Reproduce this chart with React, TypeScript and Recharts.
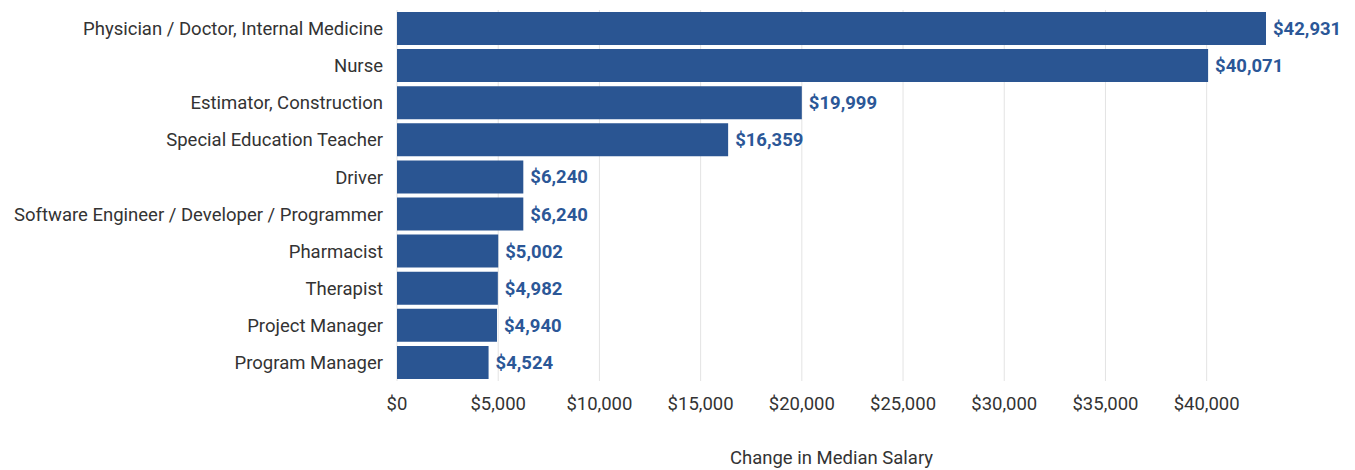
import React from 'react';
import { BarChart, Bar, XAxis, YAxis, CartesianGrid, LabelList, Label } from 'recharts';

const occupations = [
    'Physician / Doctor, Internal Medicine',
    'Nurse',
    'Estimator, Construction',
    'Special Education Teacher',
    'Driver',
    'Software Engineer / Developer / Programmer',
    'Pharmacist',
    'Therapist',
    'Project Manager',
    'Program Manager',
];
const salaryChange = [42931, 40071, 19999, 16359, 6240, 6240, 5002, 4982, 4940, 4524];
const xTicks = [0, 5000, 10000, 15000, 20000, 25000, 30000, 35000, 40000];

const data = occupations.map((name, i) => ({ name, value: salaryChange[i] }));

const money = (v: any) => '$' + Number(v).toLocaleString('en-US');

const BAR = '#2a5592';
const FONT = 'Roboto, "Noto Sans", sans-serif';
const FS = 18.5;

// only draw grid lines at the labelled ticks (no line at the domain end)
const gridX = ({ xAxis, offset }: any) => {
    if (xAxis && typeof xAxis.scale === 'function') return xTicks.map((t) => xAxis.scale(t));
    const max = Math.max(...salaryChange);
    return xTicks.map((t) => offset.left + (t / max) * offset.width);
};

const App: React.FC = () => (
    <div style={{ position: 'absolute', left: 0, top: 0, width: 1355, height: 470, background: '#fff', fontFamily: FONT }}>
        <BarChart
            width={1355}
            height={470}
            data={data}
            layout="vertical"
            margin={{ top: 10, right: 89, left: 0, bottom: 0 }}
            barCategoryGap={2}
        >
            <CartesianGrid vertical horizontal={false} stroke="#e3e3e3" verticalCoordinatesGenerator={gridX} />
            <XAxis
                type="number"
                domain={[0, 'dataMax']}
                ticks={xTicks}
                tickFormatter={money}
                axisLine={false}
                tickLine={false}
                tickMargin={10}
                height={89}
                tick={{ fill: '#333', fontSize: FS, fontFamily: FONT }}
            >
                <Label value="Change in Median Salary" position="insideBottom" offset={6}
                    style={{ fill: '#333', fontSize: FS, fontFamily: FONT }} />
            </XAxis>
            <YAxis
                type="category"
                dataKey="name"
                width={397}
                axisLine={false}
                tickLine={false}
                tickMargin={8}
                interval={0}
                tick={{ fill: '#333', fontSize: FS, fontFamily: FONT }}
            />
            <Bar dataKey="value" fill={BAR} isAnimationActive={false}>
                <LabelList
                    dataKey="value"
                    position="right"
                    offset={7}
                    formatter={money}
                    style={{ fill: '#2b5797', fontSize: FS, fontWeight: 700, fontFamily: FONT }}
                />
            </Bar>
        </BarChart>
    </div>
);

export default App;
